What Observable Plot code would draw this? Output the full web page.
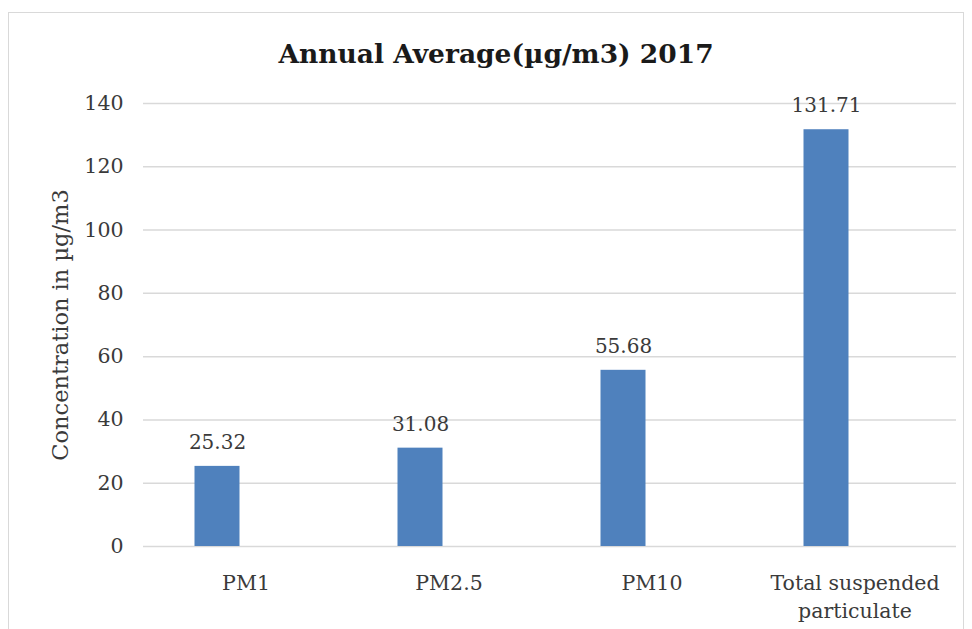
<!DOCTYPE html>
<html>
<head>
<meta charset="utf-8">
<script src="https://cdn.jsdelivr.net/npm/d3@7"></script>
<script src="https://cdn.jsdelivr.net/npm/@observablehq/plot@0.6"></script>
<style>
  html, body { margin: 0; padding: 0; background: #fff; overflow: hidden; }
  #page { position: relative; width: 972px; height: 629px; overflow: hidden; }
  #frame { position: absolute; left: 8px; top: 12px; width: 956px; height: 700px; border: 1.5px solid #d9d9d9; box-sizing: border-box; }
  #title { position: absolute; left: 0; width: 992px; top: 38px; text-align: center; font-family: "DejaVu Serif", serif; font-weight: bold; font-size: 26.5px; color: #1a1a1a; line-height: 32px; }
  #chart { position: absolute; left: 0; top: 80px; }
  #chart svg { font-family: "DejaVu Serif", serif; }
</style>
</head>
<body>
<div id="page">
  <div id="frame"></div>
  <div id="title">Annual Average(µg/m3) 2017</div>
  <div id="chart"></div>
</div>
<script>
const categories = ["PM1", "PM2.5", "PM10", "Total suspended particulate"];
const categoryLabels = ["PM1", "PM2.5", "PM10", "Total suspended\nparticulate"];
const values = [25.32, 31.08, 55.68, 131.71];
const valueLabels = ["25.32", "31.08", "55.68", "131.71"];
const yTicks = [0, 20, 40, 60, 80, 100, 120, 140];
const yLabel = "Concentration in µg/m3";

const data = categories.map((c, i) => ({category: c, value: values[i], label: valueLabels[i]}));
const labelOf = new Map(categories.map((c, i) => [c, categoryLabels[i]]));

const textColor = "#3a3a3a";
const barOffset = -28.5;

const chart = Plot.plot({
  width: 972,
  height: 549,
  marginTop: 23,
  marginBottom: 83,
  marginLeft: 143,
  marginRight: 16,
  style: {fontFamily: "'DejaVu Serif', serif", fontSize: "20px", color: textColor, background: "transparent"},
  x: {domain: categories, paddingInner: 0.78, paddingOuter: 0.39, axis: null},
  y: {domain: [0, 140], axis: null},
  marks: [
    Plot.gridY(yTicks, {stroke: "#d9d9d9", strokeOpacity: 1, strokeWidth: 1.5}),
    Plot.axisY(yTicks, {tickSize: 0, tickPadding: 20, fontSize: 20.5, fill: textColor, label: null}),
    Plot.axisX({tickSize: 0, tickPadding: 24, fontSize: 20.5, fill: textColor, label: null, lineHeight: 1.35, tickFormat: d => labelOf.get(d)}),
    Plot.barY(data, {x: "category", y: "value", fill: "#4f81bd", dx: barOffset}),
    Plot.text(data, {x: "category", y: "value", text: "label", dx: barOffset, dy: -24, fontSize: 20, fill: textColor}),
    Plot.text([yLabel], {frameAnchor: "left", dx: -83, rotate: -90, fontSize: 22.5, fill: textColor, textAnchor: "middle"})
  ]
});
document.getElementById("chart").appendChild(chart);
</script>
</body>
</html>
